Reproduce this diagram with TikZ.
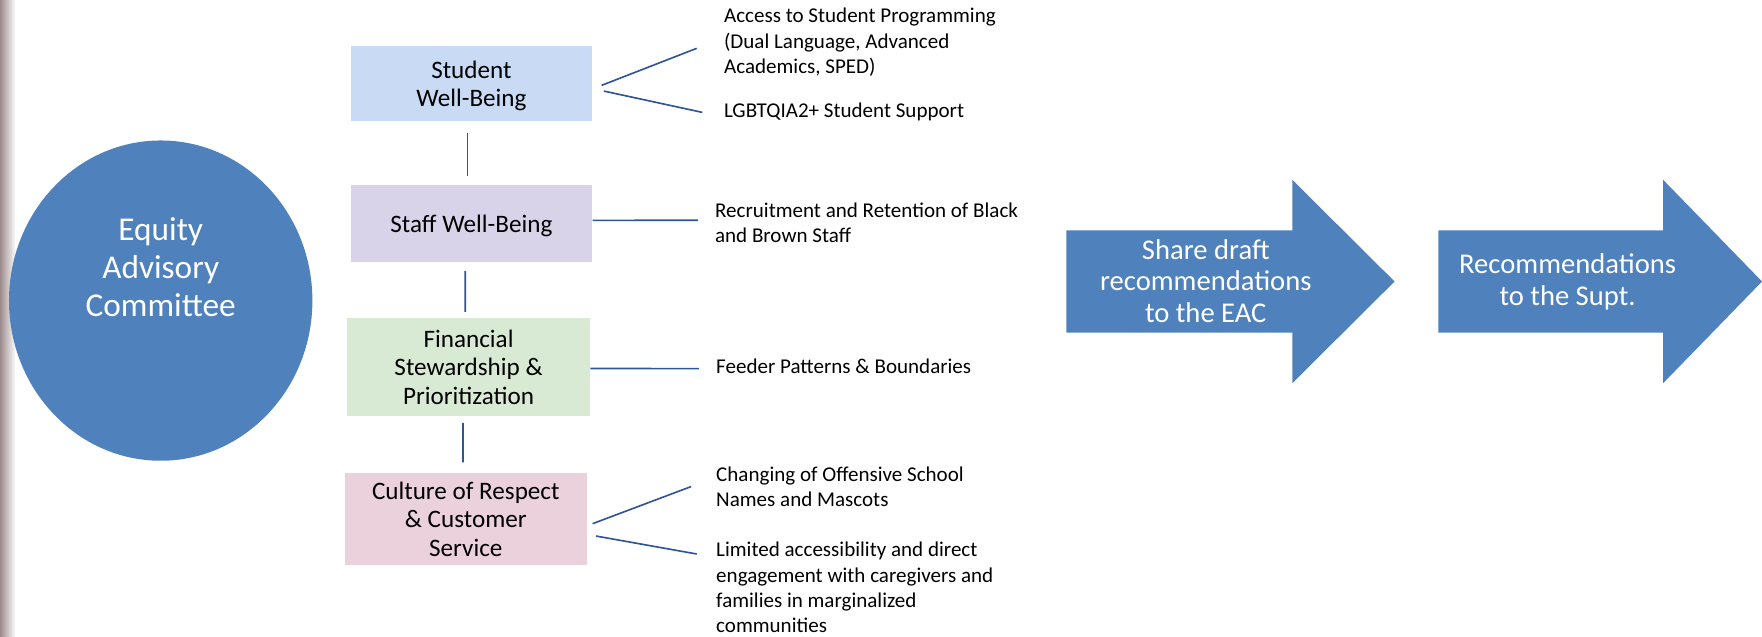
\documentclass[tikz,border=0pt]{standalone}
\usepackage{fontspec}
\setmainfont{Carlito}
\usetikzlibrary{shapes.geometric}
\definecolor{eacblue}{HTML}{4F81BD}
\definecolor{linkblue}{HTML}{2F5597}
\definecolor{boxblue}{HTML}{C9DAF5}
\definecolor{boxlilac}{HTML}{D9D3EA}
\definecolor{boxgreen}{HTML}{D9EAD4}
\definecolor{boxpink}{HTML}{EAD1DC}
\definecolor{edgegray}{HTML}{9C8C8C}

\begin{document}
\begin{tikzpicture}[x=0.55pt,y=-0.55pt,
		area/.style={rectangle,inner sep=0pt,minimum width=118.25pt,align=center,text depth=0pt,font=\fontsize{12.3}{14}\selectfont},
		note/.style={anchor=north west,inner sep=0pt,align=left,font=\fontsize{10.3}{12.4}\selectfont},
		link/.style={draw=linkblue,line width=0.8pt},
		flow/.style={fill=eacblue},
		flowtext/.style={text=white,align=center,font=\fontsize{14}{15.5}\selectfont}]
		\useasboundingbox (0,0) rectangle (1568,566);
		\shade[left color=edgegray,right color=white] (0,0) rectangle (14,566);
		
		% committee
		\node[ellipse,fill=eacblue,inner sep=0pt,minimum width=148.5pt,minimum height=156.75pt] (eac) at (143,267.5) {};
		\node[text=white,align=center,font=\fontsize{16.3}{18.7}\selectfont] (eactext) at (143,238) {Equity\\Advisory\\Committee};
		
		% focus areas
		\node[area,fill=boxblue,minimum height=36.85pt]  (sb)   at (419.5,74.5) {Student\\Well-Being};
		\node[area,fill=boxlilac,minimum height=37.4pt]  (sw)   at (419.5,199)  {Staff Well-Being};
		\node[area,fill=boxgreen,minimum height=47.85pt,minimum width=118.8pt] (fin) at (417,326.5) {Financial\\Stewardship \&\\Prioritization};
		\node[area,fill=boxpink,minimum height=45.1pt]   (cult) at (414.5,462)  {Culture of Respect\\\& Customer\\Service};
		
		% topics
		\node[note] (acc)  at (644,7)   {Access to Student Programming\\(Dual Language, Advanced\\Academics, SPED)};
		\node[note] (lgb)  at (644,91)  {LGBTQIA2+ Student Support};
		\node[note] (rec)  at (636,180) {Recruitment and Retention of Black\\and Brown Staff};
		\node[note] (feed) at (637,319) {Feeder Patterns \& Boundaries};
		\node[note] (chg)  at (637,415) {Changing of Offensive School\\Names and Mascots};
		\node[note] (lim)  at (637,482) {Limited accessibility and direct\\engagement with caregivers and\\families in marginalized\\communities};
		
		\coordinate (acc-in)  at (620,43);
		\coordinate (lgb-in)  at (625,100);
		\coordinate (rec-in)  at (621,196);
		\coordinate (feed-in) at (622,328);
		\coordinate (chg-in)  at (615,433);
		\coordinate (lim-in)  at (620,493);
		
		\draw[link,shorten <=5.5pt,shorten >=4.4pt] ([xshift=-1.9pt]sb.south) -- ([xshift=-1.9pt]sw.north);
		\draw[link,shorten <=4.4pt,shorten >=2.75pt] ([xshift=-3pt]sw.south) -- ([xshift=-1.65pt]fin.north);
		\draw[link,shorten <=3.3pt,shorten >=5pt] ([xshift=-2.75pt]fin.south) -- ([xshift=-1.4pt]cult.north);
		
		\draw[link] ([xshift=4.4pt,yshift=-0.8pt]sb.east) -- (acc-in);
		\draw[link] ([xshift=5.5pt,yshift=-3.6pt]sb.east) -- (lgb-in);
		\draw[link] ([yshift=1.6pt]sw.east) -- (rec-in);
		\draw[link] ([yshift=-0.8pt]fin.east) -- (feed-in);
		\draw[link] ([xshift=2.75pt,yshift=-2.2pt]cult.east) -- (chg-in);
		\draw[link] ([xshift=4.4pt,yshift=-8.25pt]cult.east) -- (lim-in);
		
		% next steps
		\fill[flow] (949,205) -- (1150,205) -- (1150,160) -- (1241,250.5) -- (1150,341) -- (1150,296) -- (949,296) -- cycle;
		\fill[flow] (1280,205) -- (1480,205) -- (1480,160) -- (1568,250.5) -- (1480,341) -- (1480,296) -- (1280,296) -- cycle;
		\node[flowtext] (share) at (1073,250) {Share draft\\recommendations\\to the EAC};
		\node[flowtext] (supt)  at (1395,251) {Recommendations\\to the Supt.};
\end{tikzpicture}
\end{document}
